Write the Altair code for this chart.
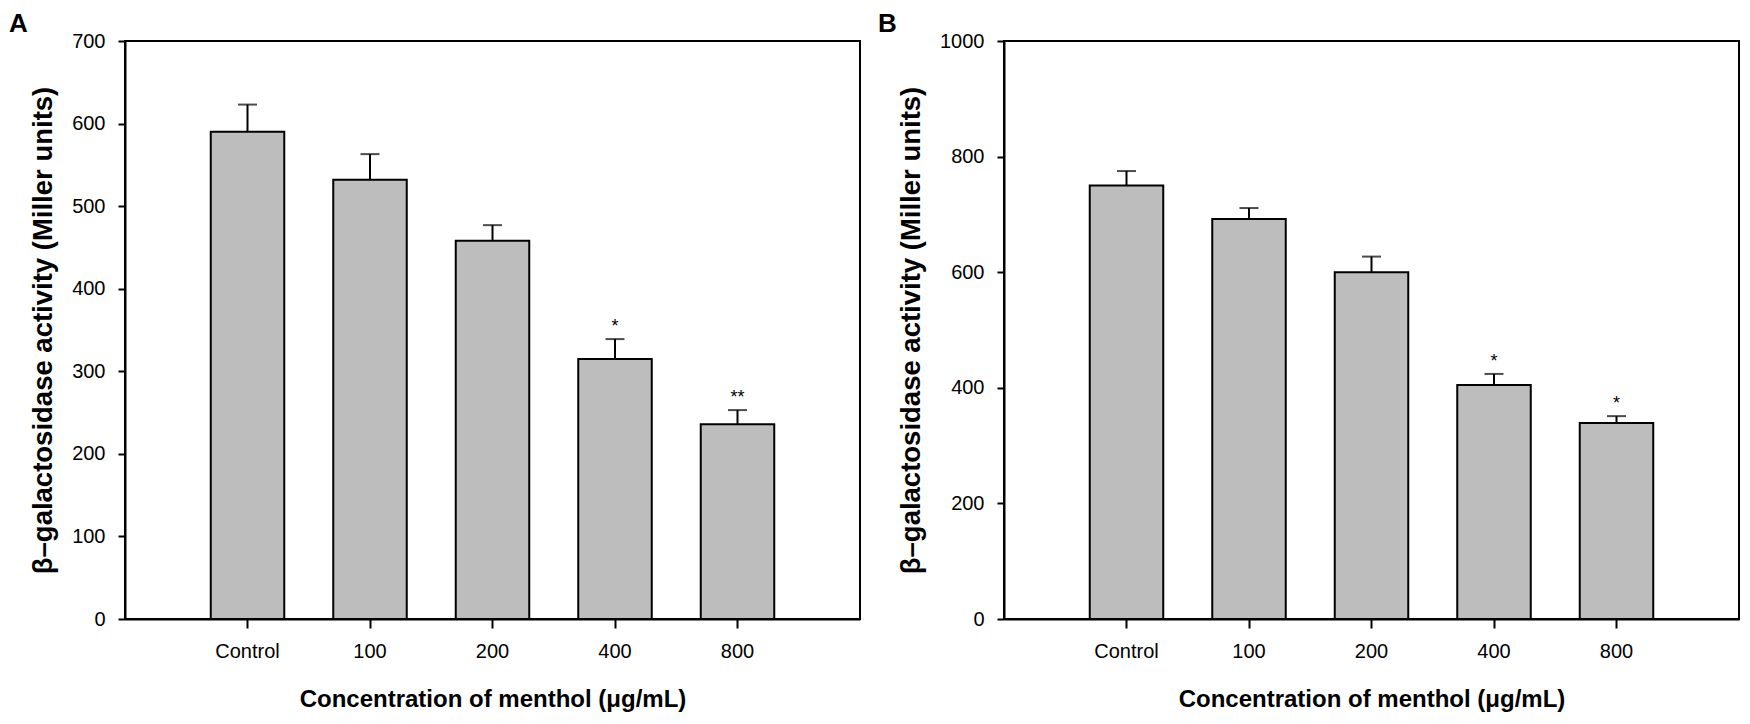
import altair as alt
import pandas as pd

categories = ["Control", "100", "200", "400", "800"]

a_means = [590, 532, 458, 315, 236]
a_errors = [33, 31, 19, 24, 17]
a_marks = ["", "", "", "*", "**"]
a_ticks = [0, 100, 200, 300, 400, 500, 600, 700]

b_means = [750, 692, 600, 405, 339]
b_errors = [25, 19, 27, 19, 12]
b_marks = ["", "", "", "*", "*"]
b_ticks = [0, 200, 400, 600, 800, 1000]

FONT = "Liberation Sans"
X_TITLE = "Concentration of menthol (μg/mL)"
Y_TITLE = "β–galactosidase activity (Miller units)"


def panel(letter, means, errors, marks, ymax, ticks, letter_dx):
    df = pd.DataFrame({
        "conc": categories,
        "mean": means,
        "upper": [m + e for m, e in zip(means, errors)],
        "sig": marks,
    })
    x = alt.X(
        "conc:N",
        sort=categories,
        scale=alt.Scale(paddingInner=0.4, paddingOuter=0.7),
        axis=alt.Axis(
            title=X_TITLE, labelAngle=0, tickSize=9, labelPadding=13,
            titlePadding=26, titleFontSize=24,
        ),
    )
    y = alt.Y(
        "mean:Q",
        scale=alt.Scale(domain=[0, ymax], nice=False),
        axis=alt.Axis(
            values=ticks, format="d", title=Y_TITLE, tickSize=7, labelPadding=13,
            titlePadding=14, titleFontSize=27.5,
        ),
    )
    base = alt.Chart(df)
    bars = base.mark_bar(fill="#bdbdbd", stroke="black", strokeWidth=2).encode(x=x, y=y)
    rule = base.mark_rule(color="black", strokeWidth=2).encode(
        x=alt.X("conc:N", sort=categories), y="mean:Q", y2="upper:Q"
    )
    cap = base.mark_tick(color="black", thickness=2, size=19).encode(
        x=alt.X("conc:N", sort=categories), y="upper:Q"
    )
    star = base.mark_text(
        fontSize=18, dy=-3, baseline="bottom", font=FONT, color="black"
    ).encode(x=alt.X("conc:N", sort=categories), y="upper:Q", text="sig:N")
    return alt.layer(bars, rule, cap, star).properties(
        width=735,
        height=578,
        title=alt.TitleParams(
            letter, anchor="start", frame="group", dx=letter_dx,
            fontSize=26, fontWeight="bold", font=FONT, offset=-27,
            baseline="alphabetic", color="black",
        ),
    )


chart_a = panel("A", a_means, a_errors, a_marks, 700, a_ticks, -116)
chart_b = panel("B", b_means, b_errors, b_marks, 1000, b_ticks, -126)

chart = (
    alt.hconcat(chart_a, chart_b, spacing=16)
    .properties(padding={"top": 2, "left": 0, "right": 0, "bottom": 0})
    .configure_view(stroke="black", strokeWidth=2)
    .configure_axis(
        grid=False,
        domainColor="black",
        domainWidth=2,
        tickColor="black",
        tickWidth=2,
        labelColor="black",
        titleColor="black",
        labelFont=FONT,
        titleFont=FONT,
        labelFontSize=20,
        titleFontWeight="bold",
    )
)

chart.save("out.html", embed_options={"renderer": "svg", "actions": False})
